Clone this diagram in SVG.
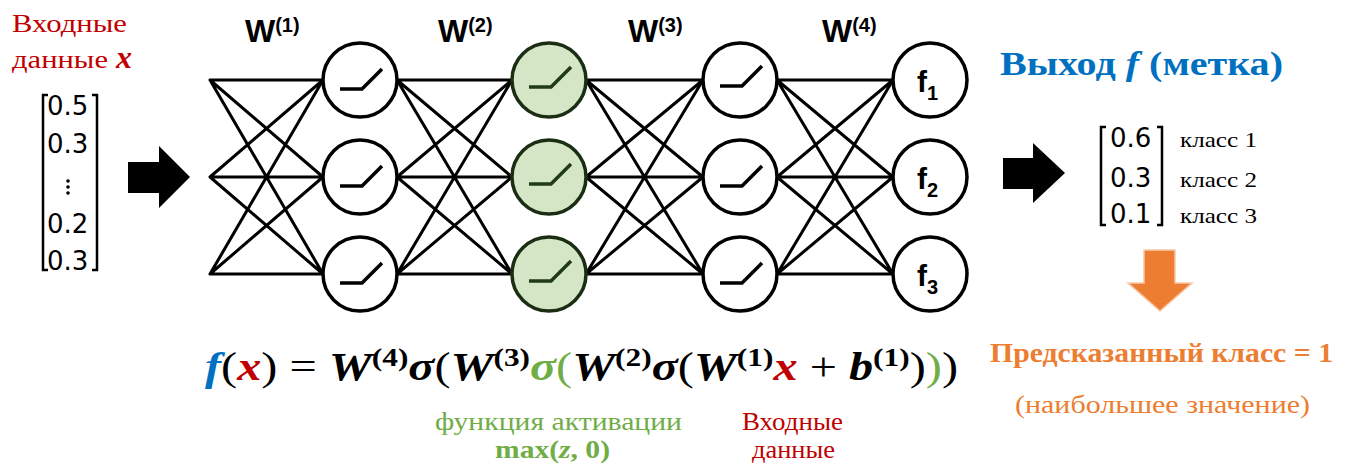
<svg xmlns="http://www.w3.org/2000/svg" width="1349" height="464" viewBox="0 0 1349 464">
<style>
.ln{stroke:#000;stroke-width:3;fill:none;stroke-linecap:round}
.nd{fill:#fff;stroke:#000;stroke-width:3.5}
.ndg{fill:#d5e6c6;stroke:#1b2e14;stroke-width:3.5}
.relu{fill:none;stroke:#000;stroke-width:3.5}
.relug{fill:none;stroke:#213a17;stroke-width:3.5}
.wl{font-family:"Liberation Sans",Arial,sans-serif;font-weight:bold;font-size:32px;fill:#000}
.fl{font-family:"Liberation Sans",Arial,sans-serif;font-weight:bold;font-size:30px;fill:#000}
.num{font-family:"DejaVu Sans",sans-serif;font-size:26px;fill:#000}
.br{fill:none;stroke:#000;stroke-width:2.5}
.ser{font-family:"Liberation Serif","DejaVu Serif","Times New Roman",serif}
.red{fill:#c00000}
.blue{fill:#0070c0}
.green{fill:#70ad47}
.orange{fill:#ed7d31}
.math{font-family:"Liberation Serif","DejaVu Serif","Times New Roman",serif;font-weight:bold;font-style:italic;font-size:40px;fill:#000}
</style>

<!-- input label -->
<g id="input-label">
<text class="ser red" x="12" y="32" font-size="26" textLength="115" lengthAdjust="spacingAndGlyphs">Входные</text>
<text class="ser red" x="12" y="68" font-size="26" textLength="96" lengthAdjust="spacingAndGlyphs">данные</text>
<text class="ser red" x="116" y="68" font-size="32" font-weight="bold" font-style="italic">x</text>
</g>

<!-- input vector -->
<g id="input-vector">
<path class="br" d="M48,95 H43 V270 H48"/>
<path class="br" d="M92,95 H97 V270 H92"/>
<text class="num" x="47" y="115">0.5</text>
<text class="num" x="47" y="153">0.3</text>
<circle cx="68" cy="181" r="1.8"/>
<circle cx="68" cy="187" r="1.8"/>
<circle cx="68" cy="193" r="1.8"/>
<text class="num" x="47" y="233">0.2</text>
<text class="num" x="47" y="270">0.3</text>
</g>

<g id="arrow-in"><polygon points="128,162 159,162 159,146 190,177 159,208 159,193 128,193" fill="#000"/></g>

<!-- connectors -->
<g id="connectors">
<path class="ln" d="M210,80 L323,80 M210,80 L323,177 M210,80 L323,274 M210,177 L323,80 M210,177 L323,177 M210,177 L323,274 M210,274 L323,80 M210,274 L323,177 M210,274 L323,274"/>
<path class="ln" d="M397,80 L512,80 M397,80 L512,177 M397,80 L512,274 M397,177 L512,80 M397,177 L512,177 M397,177 L512,274 M397,274 L512,80 M397,274 L512,177 M397,274 L512,274"/>
<path class="ln" d="M586,80 L703,80 M586,80 L703,177 M586,80 L703,274 M586,177 L703,80 M586,177 L703,177 M586,177 L703,274 M586,274 L703,80 M586,274 L703,177 M586,274 L703,274"/>
<path class="ln" d="M777,80 L893,80 M777,80 L893,177 M777,80 L893,274 M777,177 L893,80 M777,177 L893,177 M777,177 L893,274 M777,274 L893,80 M777,274 L893,177 M777,274 L893,274"/>
</g>

<!-- weight labels -->
<g id="weights">
<text class="wl" x="245" y="42">W<tspan font-size="20" dy="-10">(1)</tspan></text>
<text class="wl" x="438" y="42">W<tspan font-size="20" dy="-10">(2)</tspan></text>
<text class="wl" x="628" y="42">W<tspan font-size="20" dy="-10">(3)</tspan></text>
<text class="wl" x="822" y="42">W<tspan font-size="20" dy="-10">(4)</tspan></text>
</g>

<!-- layer 1 -->
<g id="h1-1"><circle class="nd" cx="360" cy="80" r="37"/><polyline class="relu" points="340,89 362,89 382,69"/></g>
<g id="h1-2"><circle class="nd" cx="360" cy="177" r="37"/><polyline class="relu" points="340,186 362,186 382,166"/></g>
<g id="h1-3"><circle class="nd" cx="360" cy="274" r="37"/><polyline class="relu" points="340,283 362,283 382,263"/></g>
<!-- layer 2 (green) -->
<g id="h2-1"><circle class="ndg" cx="549" cy="80" r="37"/><polyline class="relug" points="529,87 551,87 571,67"/></g>
<g id="h2-2"><circle class="ndg" cx="549" cy="177" r="37"/><polyline class="relug" points="529,184 551,184 571,164"/></g>
<g id="h2-3"><circle class="ndg" cx="549" cy="274" r="37"/><polyline class="relug" points="529,281 551,281 571,261"/></g>
<!-- layer 3 -->
<g id="h3-1"><circle class="nd" cx="740" cy="80" r="37"/><polyline class="relu" points="720,86 742,86 762,66"/></g>
<g id="h3-2"><circle class="nd" cx="740" cy="177" r="37"/><polyline class="relu" points="720,186 742,186 762,166"/></g>
<g id="h3-3"><circle class="nd" cx="740" cy="274" r="37"/><polyline class="relu" points="720,283 742,283 762,263"/></g>
<!-- outputs -->
<g id="out-1"><circle class="nd" cx="930" cy="80" r="37"/><text class="fl" x="917" y="92">f<tspan font-size="20" dy="8">1</tspan></text></g>
<g id="out-2"><circle class="nd" cx="930" cy="177" r="37"/><text class="fl" x="917" y="189">f<tspan font-size="20" dy="8">2</tspan></text></g>
<g id="out-3"><circle class="nd" cx="930" cy="274" r="37"/><text class="fl" x="917" y="286">f<tspan font-size="20" dy="8">3</tspan></text></g>

<g id="arrow-out"><polygon points="1003,158 1033,158 1033,143 1065,173 1033,203 1033,189 1003,189" fill="#000"/></g>

<!-- output label -->
<g id="output-label">
<text class="ser blue" x="1000" y="75" font-size="33" font-weight="bold" textLength="283" lengthAdjust="spacingAndGlyphs">Выход <tspan font-style="italic">f</tspan> (метка)</text>
</g>

<!-- output vector -->
<g id="output-vector">
<path class="br" d="M1106,127 H1101 V225 H1106"/>
<path class="br" d="M1157,127 H1162 V225 H1157"/>
<text class="num" x="1110" y="147">0.6</text>
<text class="num" x="1110" y="187">0.3</text>
<text class="num" x="1110" y="223">0.1</text>
<text class="ser" x="1180" y="147" font-size="22" textLength="77" lengthAdjust="spacingAndGlyphs">класс 1</text>
<text class="ser" x="1180" y="187" font-size="22" textLength="77" lengthAdjust="spacingAndGlyphs">класс 2</text>
<text class="ser" x="1180" y="223" font-size="22" textLength="77" lengthAdjust="spacingAndGlyphs">класс 3</text>
</g>

<g id="arrow-down"><polygon points="1144,250 1175,250 1175,283 1192,283 1160,311 1128,283 1144,283" fill="#ed7d31" stroke="#f6c8a8" stroke-width="1.5"/></g>

<g id="predicted">
<text class="ser orange" x="990" y="362" font-size="27" font-weight="bold" textLength="343" lengthAdjust="spacingAndGlyphs">Предсказанный класс = 1</text>
<text class="ser orange" x="1015" y="413" font-size="25" textLength="295" lengthAdjust="spacingAndGlyphs">(наибольшее значение)</text>
</g>

<!-- formula -->
<g id="formula">
<text class="math" x="205" y="380" textLength="753" lengthAdjust="spacingAndGlyphs"><tspan class="blue">f</tspan><tspan font-style="normal" font-weight="normal">(</tspan><tspan class="red">x</tspan><tspan font-style="normal" font-weight="normal">) = </tspan>W<tspan font-size="26" font-style="normal" dy="-14">(4)</tspan><tspan dy="14">σ</tspan><tspan font-style="normal" font-weight="normal">(</tspan>W<tspan font-size="26" font-style="normal" dy="-14">(3)</tspan><tspan class="green" dy="14">σ</tspan><tspan class="green" font-style="normal" font-weight="normal">(</tspan>W<tspan font-size="26" font-style="normal" dy="-14">(2)</tspan><tspan dy="14">σ</tspan><tspan font-style="normal" font-weight="normal">(</tspan>W<tspan font-size="26" font-style="normal" dy="-14">(1)</tspan><tspan class="red" dy="14">x</tspan><tspan font-style="normal" font-weight="normal"> + </tspan>b<tspan font-size="26" font-style="normal" dy="-14">(1)</tspan><tspan font-style="normal" font-weight="normal" dy="14">)</tspan><tspan class="green" font-style="normal" font-weight="normal">)</tspan><tspan font-style="normal" font-weight="normal">)</tspan></text>
</g>

<g id="activation-label">
<text class="ser green" x="435" y="430" font-size="25" textLength="247" lengthAdjust="spacingAndGlyphs">функция активации</text>
<text class="ser green" x="495" y="458" font-size="25" font-weight="bold" textLength="115" lengthAdjust="spacingAndGlyphs">max(<tspan font-style="italic">z</tspan>, 0)</text>
</g>

<g id="input-note">
<text class="ser red" x="742" y="430" font-size="25" textLength="101" lengthAdjust="spacingAndGlyphs">Входные</text>
<text class="ser red" x="752" y="458" font-size="25" textLength="83" lengthAdjust="spacingAndGlyphs">данные</text>
</g>
</svg>
